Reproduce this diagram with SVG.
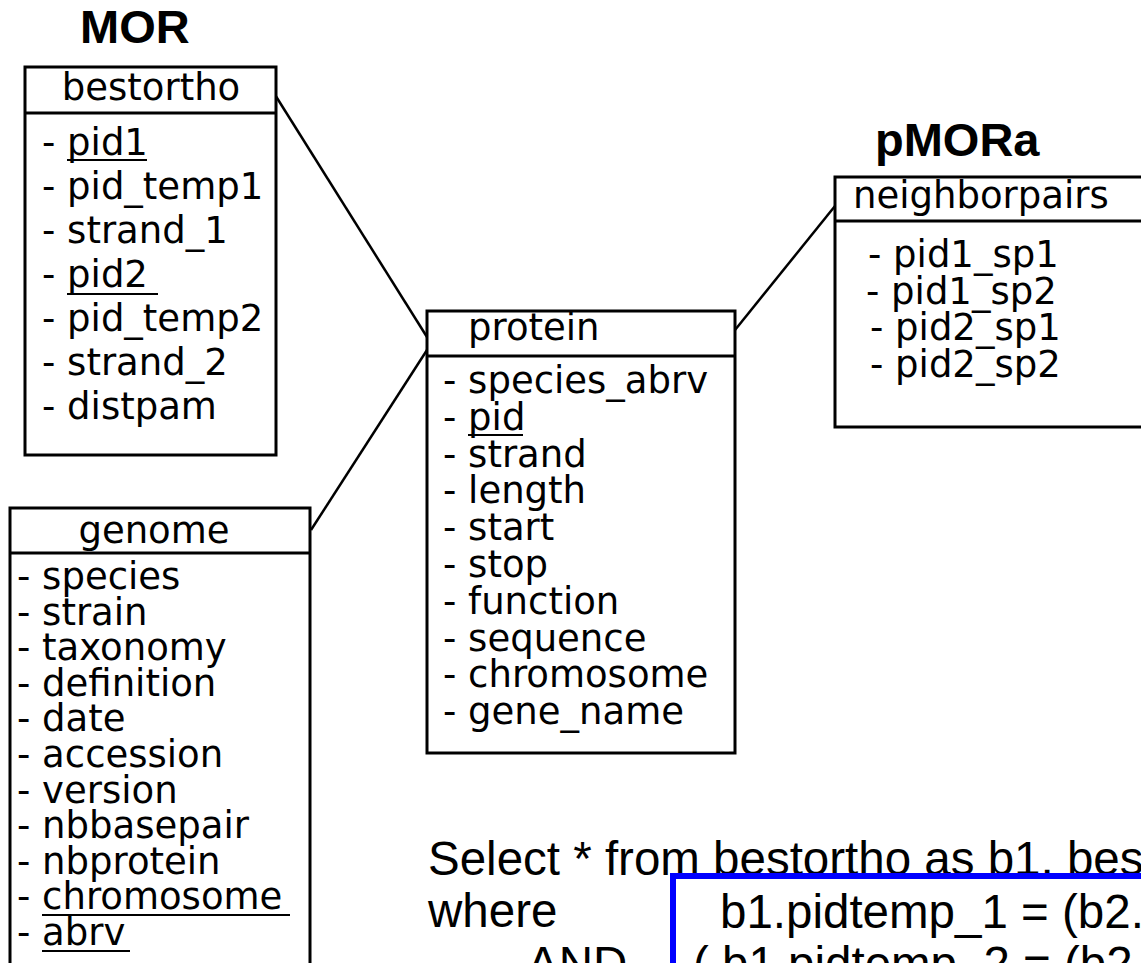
<svg xmlns="http://www.w3.org/2000/svg" width="1141" height="963" viewBox="0 0 1141 963">
<style>
.box{fill:#fff;stroke:#000;stroke-width:3}
.div{stroke:#000;stroke-width:3}
.t{font-family:"DejaVu Sans",sans-serif;font-size:37px;fill:#000}
.ul{stroke:#000;stroke-width:2}
.title{font-family:"Liberation Sans",Arial,sans-serif;font-weight:bold;font-size:47px;fill:#000}
.sql{font-family:"Liberation Sans",Arial,sans-serif;font-size:47.5px;fill:#000}
.conn{stroke:#000;stroke-width:2.5;fill:none}
</style>
<rect width="1141" height="963" fill="#fff"/>
<text class="title" x="80" y="43">MOR</text>
<text class="title" x="875" y="156">pMORa</text>
<g id="connectors">
<line class="conn" x1="272" y1="90" x2="427" y2="337"/>
<line class="conn" x1="311" y1="530" x2="427" y2="350"/>
<line class="conn" x1="735" y1="330" x2="835" y2="206"/>
</g>
<g id="bestortho">
<rect class="box" x="25" y="67" width="251" height="388"/>
<line class="div" x1="25" y1="113" x2="276" y2="113"/>
<text class="t" x="151" y="100" text-anchor="middle">bestortho</text>
<text class="t" x="42" y="155">- pid1</text>
<line class="ul" x1="67" y1="160" x2="147" y2="160"/>
<text class="t" x="42" y="199">- pid_temp1</text>
<text class="t" x="42" y="243">- strand_1</text>
<text class="t" x="42" y="287">- pid2</text>
<line class="ul" x1="67" y1="294" x2="158" y2="294"/>
<text class="t" x="42" y="331">- pid_temp2</text>
<text class="t" x="42" y="375">- strand_2</text>
<text class="t" x="42" y="419">- distpam</text>
</g>
<g id="genome">
<rect class="box" x="10" y="508" width="300" height="500"/>
<line class="div" x1="10" y1="553" x2="310" y2="553"/>
<text class="t" x="154" y="543" text-anchor="middle">genome</text>
<text class="t" x="17" y="589">- species</text>
<text class="t" x="17" y="624.6">- strain</text>
<text class="t" x="17" y="660.2">- taxonomy</text>
<text class="t" x="17" y="695.8">- definition</text>
<text class="t" x="17" y="731.4">- date</text>
<text class="t" x="17" y="767">- accession</text>
<text class="t" x="17" y="802.6">- version</text>
<text class="t" x="17" y="838.2">- nbbasepair</text>
<text class="t" x="17" y="873.8">- nbprotein</text>
<text class="t" x="17" y="909.4">- chromosome</text>
<line class="ul" x1="42" y1="915" x2="290" y2="915"/>
<text class="t" x="17" y="945">- abrv</text>
<line class="ul" x1="42" y1="951" x2="130" y2="951"/>
</g>
<g id="protein">
<rect class="box" x="427" y="311" width="308" height="442"/>
<line class="div" x1="427" y1="356" x2="735" y2="356"/>
<text class="t" x="468" y="340">protein</text>
<text class="t" x="443" y="393">- species_abrv</text>
<text class="t" x="443" y="429.8">- pid</text>
<line class="ul" x1="468" y1="435" x2="523" y2="435"/>
<text class="t" x="443" y="466.6">- strand</text>
<text class="t" x="443" y="503.4">- length</text>
<text class="t" x="443" y="540.2">- start</text>
<text class="t" x="443" y="577">- stop</text>
<text class="t" x="443" y="613.8">- function</text>
<text class="t" x="443" y="650.6">- sequence</text>
<text class="t" x="443" y="687.4">- chromosome</text>
<text class="t" x="443" y="724.2">- gene_name</text>
</g>
<g id="neighborpairs">
<rect class="box" x="835" y="177" width="330" height="250"/>
<line class="div" x1="835" y1="221" x2="1165" y2="221"/>
<text class="t" x="853" y="208">neighborpairs</text>
<text class="t" x="868" y="267">- pid1_sp1</text>
<text class="t" x="866" y="303.5">- pid1_sp2</text>
<text class="t" x="870" y="340">- pid2_sp1</text>
<text class="t" x="870" y="376.5">- pid2_sp2</text>
</g>
<g id="query">
<text class="sql" x="428" y="875">Select * from bestortho as b1, bes</text>
<text class="sql" x="428" y="927">where</text>
<text class="sql" x="527" y="980">AND</text>
<rect x="673" y="876" width="600" height="200" fill="#fff" stroke="#0000ff" stroke-width="6"/>
<text class="sql" x="720" y="928">b1.pidtemp_1 = (b2.</text>
<text class="sql" x="693" y="980">( b1.pidtemp_2 = (b2.</text>
</g>
</svg>
